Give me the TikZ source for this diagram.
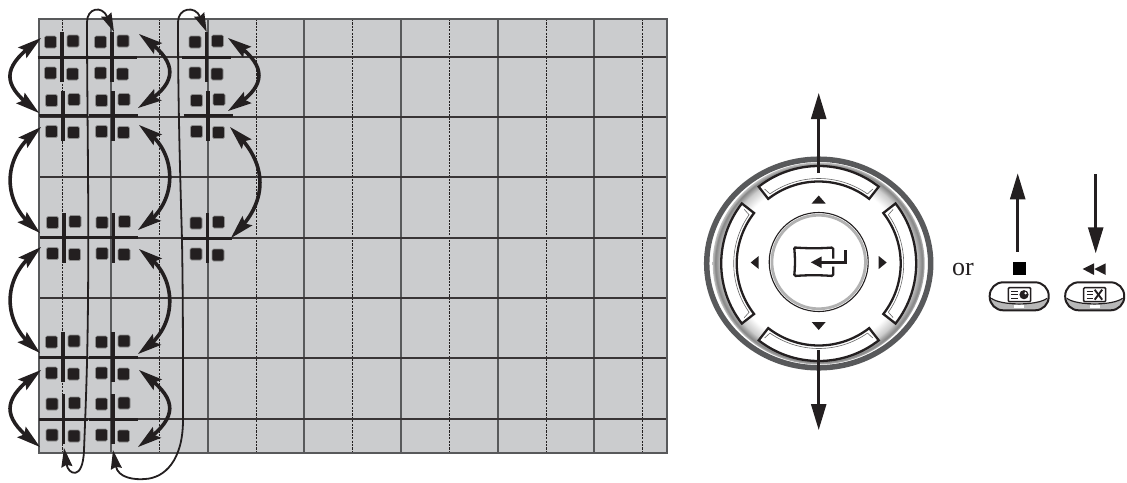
\documentclass[tikz,border=0pt]{standalone}
\usepackage{fontspec}
\setmainfont{Liberation Serif}
\usetikzlibrary{arrows.meta,calc}
\definecolor{cellgray}{HTML}{CBCCCE}
\definecolor{ringgray}{HTML}{58595B}
\definecolor{ink}{HTML}{231F20}
\pgfdeclareradialshading{silverdisc}{\pgfpointorigin}{color(0bp)=(white); color(20.5bp)=(white); color(23bp)=(black!20); color(24.4bp)=(black!48); color(25bp)=(black!25); color(50bp)=(black!25)}
\newcommand{\swinghead}[2]{\fill[ink] (#1) -- ($(#1)!25pt!16:(#2)$) -- ($(#1)!20pt!(#2)$) -- ($(#1)!25pt!-16:(#2)$) -- cycle;}
\tikzset{
  hline/.style={draw=ink!90,line width=1.3pt},
  vsolid/.style={draw=ringgray,line width=1.1pt},
  vdash/.style={draw=ink,line width=.9pt,dash pattern=on 2.2pt off 1.2pt},
  crossh/.style={draw=ink,line width=3pt},
  crossv/.style={draw=ink,line width=3.6pt},
  keysq/.style={fill=ink,draw=black!45,line width=.6pt,rounded corners=1.5pt},
  swing/.style={draw=ink,line width=3.6pt,shorten <=12pt,shorten >=12pt},
  threadtips/.style={{Stealth[length=19pt,width=11pt,inset=2pt]}-{Stealth[length=19pt,width=11pt,inset=2pt]}},
  thread/.style={draw=ink,line width=1.8pt,threadtips},
  bigarrow/.style={draw=ink,line width=2.5pt,-{Stealth[length=26pt,width=15pt,inset=0pt]}},
  btn/.style={draw=ink,line width=2.3pt,fill=white,line join=miter},
  tri/.style={fill=ink,draw=none},
  pillout/.style={draw=ink,line width=2pt},
}
\begin{document}
\begin{tikzpicture}[x=1pt,y=-1pt]
\useasboundingbox (0,0) rectangle (1127,482);
% grid
\fill[cellgray] (39,19) rectangle (667,453);
\foreach \x in {62,159,256,352,449,546,642} \draw[vdash] (\x,19) -- (\x,453);
\foreach \x in {111,208,304,401,498,594} \draw[vsolid] (\x,19) -- (\x,453);
\foreach \y in {57,117,177,238,298,358,419} \draw[hline] (39,\y) -- (667,\y);
\draw[ringgray,line width=2.2pt] (39,19) rectangle (667,453);
% crosses and keys
\foreach \n/\cx/\cy in {a/62/57,b/112/57,c/206.5/57,d/63/115.5,e/113/115.5,f/208/115.5,g/64/237.5,h/113.5/237.5,i/207.5/238,j/63/357,k/113/357,l/63.5/419,m/113/419}{
  \coordinate (cross\n) at (\cx,\cy);
  \draw[crossh] ([xshift=-24.5pt]cross\n) -- ([xshift=24.5pt]cross\n);
  \draw[crossv] ([yshift=-25pt]cross\n) -- ([yshift=25pt]cross\n);
  \foreach \dx/\dy in {-11.5/-15,11/-16,-11.5/16,10.5/17}
    \fill[keysq] ([shift={(\dx-6,\dy-6)}]cross\n) rectangle ([shift={(\dx+6,\dy+6)}]cross\n);
}
% swings
\foreach \n/\xa/\ya/\xb/\yb/\c/\ca/\cb in {
  1/41/38/39/113/3/68/84,
  2/139/34/138/108/177/63/82,
  3/228/38/228/111/266/66/85,
  4/41/127/40/233/3/160/200,
  5/139/125/138/230/177/155/200,
  6/230/127/231/238/267/165/200,
  7/41/247/40/353/3/280/320,
  8/139/249/138/354/177/279/324,
  9/41/370/40/447/3/400/417,
  10/139/370/138/447/177/400/417}{
  \coordinate (swing\n a) at (\xa,\ya);
  \coordinate (swing\n b) at (\xb,\yb);
  \coordinate (swing\n p) at (\c,\ca);
  \coordinate (swing\n q) at (\c,\cb);
  \draw[swing] (swing\n a) .. controls (swing\n p) and (swing\n q) .. (swing\n b);
  \swinghead{swing\n a}{swing\n p}
  \swinghead{swing\n b}{swing\n q}
}
% threads
\coordinate (threadAs) at (64,448);
\coordinate (threadAe) at (114,32);
\coordinate (threadBs) at (113,450);
\coordinate (threadBe) at (206.7,32);
\draw[thread]
  (threadAs) .. controls (68,474) and (83,482) .. (84,450)
  .. controls (86,400) and (87.5,360) .. (88,300)
  .. controls (89,200) and (87,100) .. (87,22)
  .. controls (87,8) and (102,5) .. (threadAe);
\draw[thread]
  (threadBs) .. controls (118,478) and (135,480) .. (145,479)
  .. controls (165,478) and (183,460) .. (183,420)
  .. controls (183,340) and (183,300) .. (182,240)
  .. controls (180,170) and (178,100) .. (178,22)
  .. controls (178,8) and (195,5) .. (threadBe);
% dial
\coordinate (dial) at (818.7,263.5);
\draw[fill=white,draw=ringgray,line width=5.5pt] (dial) ellipse [x radius=112, y radius=104.3];
\shade[shading=silverdisc] (dial) ellipse [x radius=106, y radius=101];
\begin{scope}[shift={(dial)}]
  \foreach \a in {90,180,270,360}{
    \draw[btn] (\a-38:97.5) arc[start angle=\a-38,end angle=\a+38,radius=97.5] -- (\a+38:82) arc[start angle=\a+38,end angle=\a-38,radius=82] -- cycle;
    \draw[black!60,line width=.6pt] (\a-35:85) arc[start angle=\a-35,end angle=\a+35,radius=85];
    \draw[black!60,line width=.6pt] (\a-35:85) -- (\a-36:92);
    \draw[black!60,line width=.6pt] (\a+35:85) -- (\a+36:92);
  }
  \draw[fill=white,draw=ink,line width=1.1pt] (0,-1.5) circle [radius=49.5];
  \draw[black!30,line width=2.8pt] (0,-1.5) circle [radius=46.8];
  \fill[tri] (-7,-60) -- (7,-60) -- (0,-68) -- cycle;
  \fill[tri] (-7,58.5) -- (7,58.5) -- (0,66.5) -- cycle;
  \fill[tri] (-60,-7.5) -- (-60,5.5) -- (-68,-1) -- cycle;
  \fill[tri] (60,-7.5) -- (60,5.5) -- (68,-1) -- cycle;
  % enter icon
  \draw[ink,line width=2.3pt,rounded corners=1.5pt] (-24.5,-16) .. controls (-10,-15) and (0,-15) .. (14.5,-16) -- (14.5,-5)
     (14.5,3) -- (14.5,12.5) .. controls (0,11.5) and (-10,11.5) .. (-24.5,12.5) .. controls (-23.5,2) and (-23.5,-6) .. (-24.5,-16);
  \draw[ink,line width=2.5pt,-{Stealth[length=11pt,width=11pt,inset=0pt]}] (27,-13.5) -- (27,-1.2) -- (-8,-1.2);
\end{scope}
\coordinate (upa) at (818.7,173);
\coordinate (upb) at (818.7,93);
\coordinate (dna) at (818.7,350);
\coordinate (dnb) at (818.7,430);
\draw[bigarrow] (upa) -- (upb);
\draw[bigarrow] (dna) -- (dnb);
% or
\node[anchor=base,inner sep=0pt,text=ink] (ortext) at (963,275) {\fontsize{26}{26}\selectfont or};
% key buttons
\foreach \kx in {1019.2,1094.7}{
  \begin{scope}[shift={(\kx,296.3)}]
    \begin{scope}
      \clip[rounded corners=13.5pt] (-29.5,-14) rectangle (29.5,14);
      \fill[white] (-30,-15) rectangle (30,15);
      \fill[black!28] (-30,2) .. controls (-18,10) and (18,10) .. (30,2) -- (30,15) -- (-30,15) -- cycle;
      \fill[white] (-5,9) rectangle (5,11.5);
    \end{scope}
    \draw[ink,line width=1.2pt] (-28,2) .. controls (-18,9.5) and (18,9.5) .. (28,2);
    \draw[pillout,rounded corners=13.5pt] (-29.5,-14) rectangle (29.5,14);
  \end{scope}
}
% key icons
\coordinate (keyA) at (1019.5,294.7);
\coordinate (keyB) at (1094.7,294.7);
\draw[ink,line width=1.5pt,rounded corners=1pt,fill=white] ([shift={(-11.2,-7)}]keyA) rectangle ([shift={(11.2,7)}]keyA);
\foreach \dy in {-3.5,0,3.5} \draw[ink,line width=1.1pt] ([shift={(-8.5,\dy)}]keyA) -- ([shift={(-2,\dy)}]keyA);
\fill[ink] ([xshift=4.5pt]keyA) circle [radius=4.6];
\fill[white] ([shift={(6,-1.5)}]keyA) circle [radius=1.3];
\draw[ink,line width=1.5pt,rounded corners=1pt,fill=white] ([shift={(-11,-7)}]keyB) rectangle ([shift={(11,7)}]keyB);
\foreach \dy in {-3.5,0,3.5} \draw[ink,line width=1.1pt] ([shift={(-8,\dy)}]keyB) -- ([shift={(-1.5,\dy)}]keyB);
\draw[ink,line width=1.9pt] ([shift={(0,-5)}]keyB) -- ([shift={(7.5,5)}]keyB);
\draw[ink,line width=1.9pt] ([shift={(7.5,-5)}]keyB) -- ([shift={(0,5)}]keyB);
% stop + rewind glyphs
\fill[black] (1013,262) rectangle (1026,275);
\fill[ink] (1082.7,269) -- (1094,263.3) -- (1094,275) -- cycle;
\fill[ink] (1094.3,269) -- (1105.7,263.3) -- (1105.7,275) -- cycle;
% side arrows
\coordinate (sua) at (1017.7,251.7);
\coordinate (sub) at (1017.7,173.3);
\coordinate (sda) at (1095.7,174);
\coordinate (sdb) at (1095.7,253.3);
\draw[bigarrow] (sua) -- (sub);
\draw[bigarrow] (sda) -- (sdb);
\end{tikzpicture}
\end{document}
